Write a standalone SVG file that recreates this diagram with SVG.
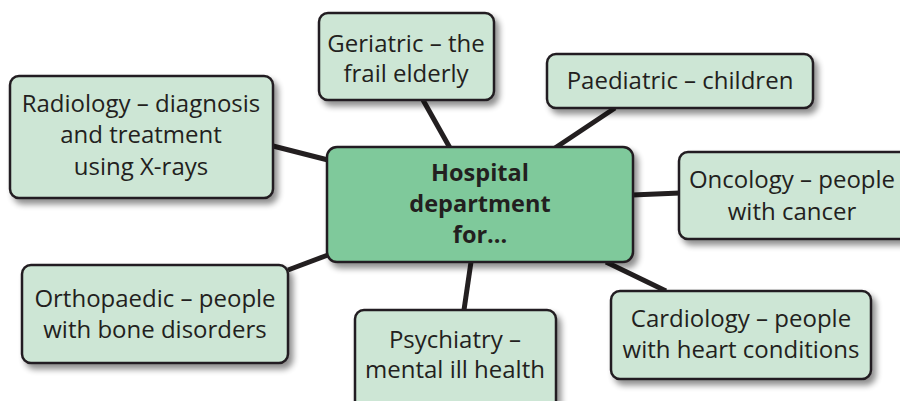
<svg xmlns="http://www.w3.org/2000/svg" width="900" height="401" viewBox="0 0 900 401">
  <defs>
    <filter id="shadow" x="-10%" y="-10%" width="130%" height="140%">
      <feGaussianBlur in="SourceAlpha" stdDeviation="3"/>
      <feOffset dx="4" dy="5" result="b"/>
      <feComponentTransfer><feFuncA type="linear" slope="0.45"/></feComponentTransfer>
      <feMerge><feMergeNode/><feMergeNode in="SourceGraphic"/></feMerge>
    </filter>
  </defs>
  <style>
    .box { fill: #cde6d5; stroke: #231f20; stroke-width: 2.5; filter: url(#shadow); }
    .hub { fill: #7fc99b; stroke: #231f20; stroke-width: 2.5; filter: url(#shadow); }
    .lbl { font-family: "Open Sans", "Noto Sans", sans-serif; font-size: 24px; fill: #231f20; text-anchor: middle; }
    .hubl { font-family: "Open Sans", "Noto Sans", sans-serif; font-size: 23.5px; font-weight: 700; fill: #231f20; text-anchor: middle; }
    .link { stroke: #231f20; stroke-width: 5; stroke-linecap: butt; fill: none; }
  </style>
  <rect width="900" height="401" fill="#ffffff"/>

  <g id="connectors">
    <line class="link" x1="423" y1="100" x2="450" y2="148"/>
    <line class="link" x1="615" y1="108" x2="555" y2="148"/>
    <line class="link" x1="632" y1="195" x2="680" y2="193"/>
    <line class="link" x1="273" y1="146" x2="328" y2="160"/>
    <line class="link" x1="288" y1="270" x2="328" y2="255"/>
    <line class="link" x1="471" y1="262" x2="464" y2="310"/>
    <line class="link" x1="606" y1="262" x2="666" y2="291"/>
  </g>

  <g id="hub">
    <rect class="hub" x="327" y="147" width="306" height="115" rx="10"/>
    <text class="hubl" x="480" y="181">Hospital</text>
    <text class="hubl" x="480" y="212">department</text>
    <text class="hubl" x="480" y="243">for...</text>
  </g>

  <g id="geriatric">
    <rect class="box" x="319" y="13" width="175" height="87" rx="9"/>
    <text class="lbl" x="406" y="52">Geriatric – the</text>
    <text class="lbl" x="406" y="82">frail elderly</text>
  </g>

  <g id="paediatric">
    <rect class="box" x="547" y="54" width="266" height="54" rx="9"/>
    <text class="lbl" x="680" y="89">Paediatric – children</text>
  </g>

  <g id="radiology">
    <rect class="box" x="10" y="76" width="263" height="122" rx="9"/>
    <text class="lbl" x="141" y="112">Radiology – diagnosis</text>
    <text class="lbl" x="141" y="143">and treatment</text>
    <text class="lbl" x="141" y="175">using X-rays</text>
  </g>

  <g id="oncology">
    <rect class="box" x="679" y="152" width="240" height="87" rx="9"/>
    <text class="lbl" x="792" y="188">Oncology – people</text>
    <text class="lbl" x="792" y="220">with cancer</text>
  </g>

  <g id="orthopaedic">
    <rect class="box" x="22" y="265" width="266" height="98" rx="9"/>
    <text class="lbl" x="155" y="307">Orthopaedic – people</text>
    <text class="lbl" x="155" y="338">with bone disorders</text>
  </g>

  <g id="psychiatry">
    <rect class="box" x="355" y="310" width="201" height="100" rx="9"/>
    <text class="lbl" x="455" y="348">Psychiatry –</text>
    <text class="lbl" x="455" y="378">mental ill health</text>
  </g>

  <g id="cardiology">
    <rect class="box" x="611" y="291" width="260" height="88" rx="9"/>
    <text class="lbl" x="741" y="327">Cardiology – people</text>
    <text class="lbl" x="741" y="358">with heart conditions</text>
  </g>
</svg>
